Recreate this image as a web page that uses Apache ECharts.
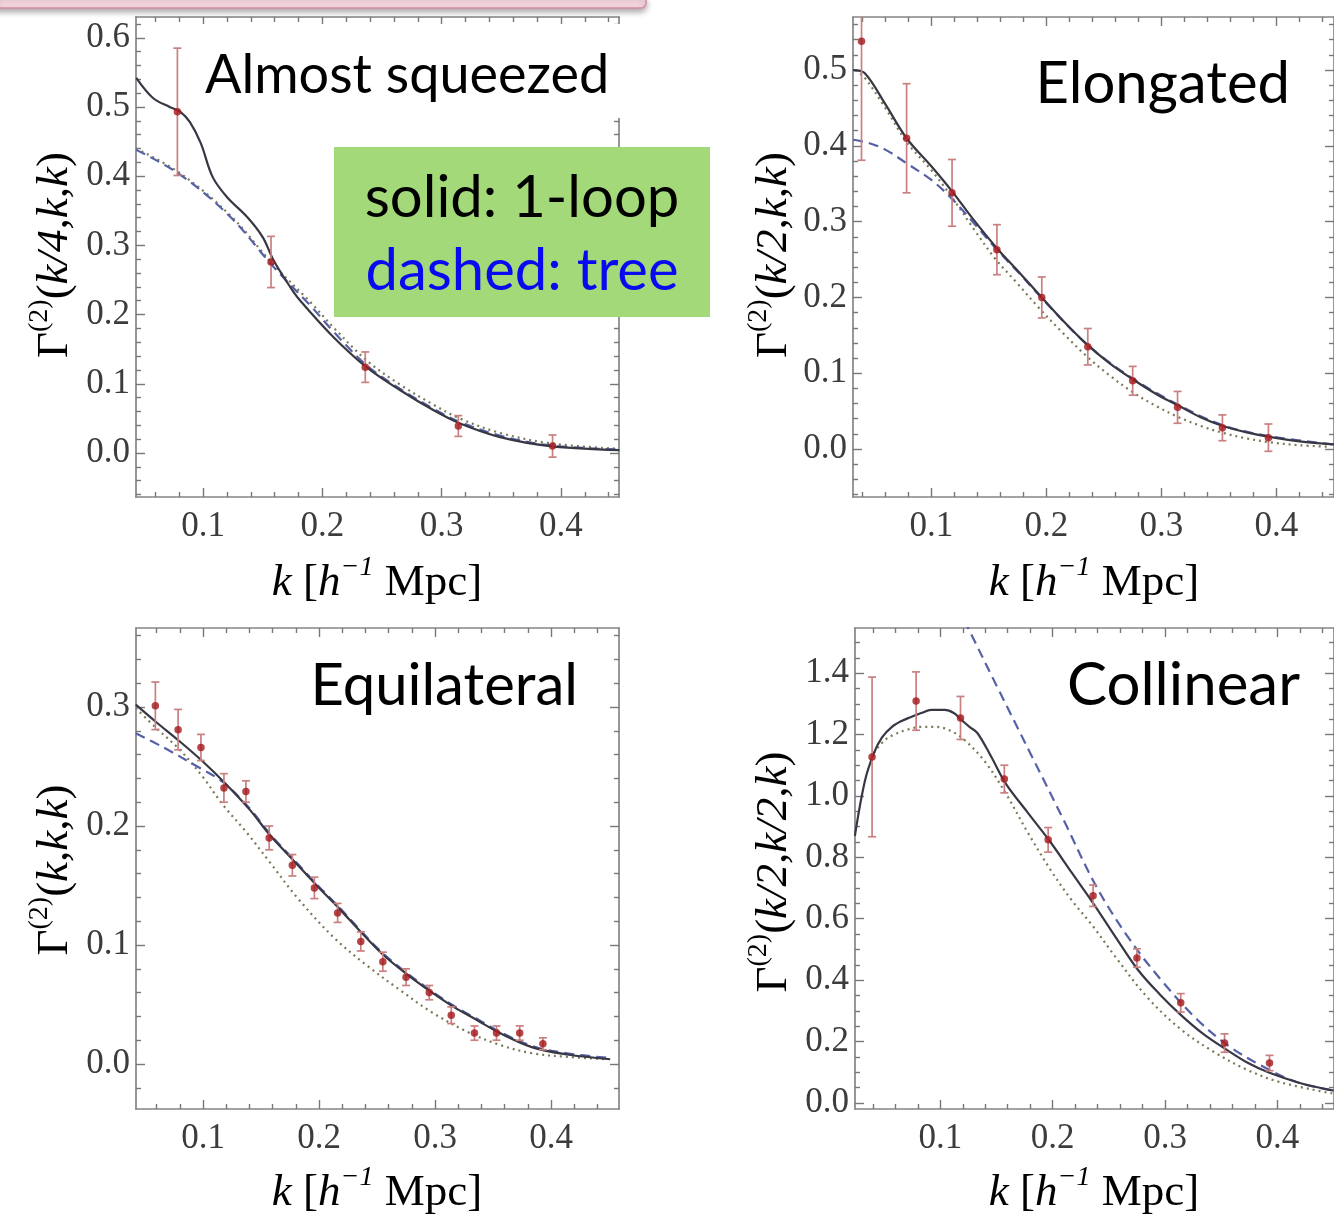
<!DOCTYPE html>
<html><head><meta charset="utf-8">
<script src="https://cdn.jsdelivr.net/npm/echarts@6/dist/echarts.min.js"></script>
<style>html,body{margin:0;padding:0;background:#fff}#c{width:1334px;height:1215px}</style>
</head><body><div id="c"></div>
<script>
// ---------- Panel 1: Almost squeezed  Γ(k/4,k,k)
const p1SolidK = [0.044,0.058,0.072,0.081,0.089,0.098,0.108,0.120,0.137,0.150,0.159,0.173,0.181,0.209,0.237,0.265,0.293,0.315,0.349,0.391,0.449];
const p1SolidY = [0.542,0.513,0.500,0.493,0.478,0.448,0.399,0.370,0.341,0.312,0.279,0.240,0.221,0.168,0.124,0.091,0.062,0.043,0.023,0.010,0.004];
const p1DashK = [0.044,0.081,0.123,0.159,0.190,0.209,0.237,0.265,0.293,0.315,0.349,0.391,0.449];
const p1DashY = [0.438,0.402,0.341,0.269,0.213,0.176,0.127,0.093,0.064,0.045,0.025,0.011,0.005];
const p1DotK  = [0.044,0.081,0.123,0.159,0.190,0.209,0.237,0.265,0.293,0.315,0.349,0.391,0.449];
const p1DotY  = [0.440,0.404,0.343,0.272,0.218,0.182,0.134,0.099,0.070,0.050,0.029,0.014,0.006];
const p1PtK = [0.0785,0.157,0.236,0.314,0.393];
const p1PtY = [0.493,0.276,0.124,0.039,0.010];
const p1PtE = [0.092,0.037,0.022,0.015,0.016];

// ---------- Panel 2: Elongated  Γ(k/2,k,k)
const p2SolidK = [0.032,0.042,0.060,0.0785,0.100,0.118,0.137,0.157,0.177,0.196,0.216,0.236,0.255,0.275,0.295,0.315,0.334,0.354,0.374,0.394,0.420,0.450];
const p2SolidY = [0.500,0.496,0.455,0.410,0.373,0.340,0.302,0.265,0.232,0.200,0.167,0.137,0.113,0.092,0.073,0.057,0.042,0.030,0.022,0.016,0.010,0.006];
const p2DashK = [0.032,0.045,0.060,0.0785,0.100,0.118,0.137,0.157,0.177,0.196,0.236,0.275,0.315,0.354,0.394,0.450];
const p2DashY = [0.408,0.404,0.395,0.377,0.355,0.330,0.298,0.263,0.231,0.199,0.137,0.093,0.058,0.031,0.017,0.006];
const p2DotK  = [0.034,0.042,0.060,0.0785,0.100,0.118,0.137,0.155,0.175,0.193,0.215,0.236,0.255,0.275,0.295,0.315,0.335,0.354,0.374,0.394,0.420,0.446];
const p2DotY  = [0.500,0.490,0.450,0.405,0.368,0.332,0.290,0.252,0.218,0.187,0.152,0.121,0.097,0.075,0.057,0.042,0.030,0.021,0.014,0.009,0.005,0.003];
const p2PtK = [0.0393,0.0785,0.118,0.157,0.196,0.236,0.275,0.314,0.353,0.393];
const p2PtY = [0.538,0.410,0.338,0.263,0.200,0.135,0.090,0.055,0.028,0.015];
const p2PtE = [0.157,0.072,0.044,0.033,0.027,0.024,0.019,0.021,0.017,0.018];

// ---------- Panel 3: Equilateral  Γ(k,k,k)
const p3SolidK = [0.042,0.060,0.080,0.100,0.119,0.140,0.158,0.178,0.198,0.217,0.236,0.255,0.275,0.296,0.316,0.336,0.356,0.384,0.414,0.451];
const p3SolidY = [0.302,0.287,0.271,0.254,0.236,0.214,0.192,0.171,0.150,0.131,0.111,0.092,0.076,0.061,0.048,0.037,0.026,0.014,0.008,0.004];
const p3DashK = [0.042,0.066,0.095,0.117,0.140,0.158,0.178,0.198,0.217,0.236,0.255,0.275,0.296,0.316,0.336,0.356,0.384,0.414,0.451];
const p3DashY = [0.278,0.266,0.250,0.237,0.215,0.193,0.172,0.151,0.132,0.112,0.093,0.077,0.062,0.049,0.038,0.027,0.015,0.009,0.005];
const p3DotK  = [0.042,0.060,0.080,0.100,0.117,0.138,0.158,0.181,0.212,0.241,0.270,0.298,0.328,0.356,0.384,0.414,0.448];
const p3DotY  = [0.299,0.282,0.264,0.241,0.218,0.194,0.169,0.140,0.107,0.083,0.062,0.043,0.027,0.016,0.009,0.006,0.004];
const p3PtK = [0.0589,0.0785,0.0982,0.118,0.137,0.157,0.177,0.196,0.216,0.236,0.255,0.275,0.295,0.314,0.334,0.353,0.373,0.393];
const p3PtY = [0.301,0.281,0.266,0.232,0.229,0.190,0.167,0.148,0.127,0.103,0.086,0.073,0.060,0.041,0.026,0.026,0.026,0.017];
const p3PtE = [0.020,0.017,0.011,0.012,0.009,0.010,0.009,0.009,0.008,0.008,0.008,0.007,0.006,0.007,0.006,0.006,0.006,0.005];

// ---------- Panel 4: Collinear  Γ(k/2,k/2,k)
const p4SolidK = [0.024,0.033,0.041,0.048,0.057,0.066,0.074,0.083,0.092,0.104,0.112,0.119,0.126,0.133,0.145,0.158,0.178,0.198,0.217,0.236,0.256,0.276,0.295,0.314,0.334,0.355,0.374,0.393,0.420,0.450];
const p4SolidY = [0.870,1.050,1.140,1.190,1.225,1.245,1.257,1.270,1.280,1.280,1.270,1.247,1.225,1.205,1.130,1.042,0.945,0.850,0.750,0.651,0.540,0.433,0.355,0.287,0.225,0.173,0.130,0.098,0.065,0.040];
const p4DashK = [0.115,0.1256,0.150,0.180,0.210,0.239,0.269,0.299,0.329,0.358,0.388,0.417,0.450];
const p4DashY = [1.620,1.541,1.360,1.140,0.920,0.704,0.530,0.390,0.270,0.182,0.117,0.068,0.040];
const p4DotK  = [0.041,0.050,0.059,0.070,0.083,0.094,0.104,0.119,0.139,0.158,0.178,0.198,0.217,0.236,0.255,0.284,0.314,0.344,0.373,0.402,0.450];
const p4DotY  = [1.140,1.180,1.200,1.215,1.225,1.225,1.220,1.190,1.115,1.010,0.880,0.760,0.660,0.575,0.480,0.345,0.240,0.165,0.108,0.068,0.030];
const p4PtK = [0.0393,0.0785,0.118,0.157,0.196,0.236,0.275,0.314,0.353,0.393];
const p4PtY = [1.127,1.309,1.254,1.055,0.857,0.675,0.472,0.326,0.195,0.130];
const p4PtE = [0.260,0.095,0.070,0.045,0.040,0.035,0.030,0.030,0.030,0.025];

// ---------- tick labels
const xMajor = [0.1,0.2,0.3,0.4];
const y1Major = [0.0,0.1,0.2,0.3,0.4,0.5,0.6];
const y2Major = [0.0,0.1,0.2,0.3,0.4,0.5];
const y3Major = [0.0,0.1,0.2,0.3];
const y4Major = [0.0,0.2,0.4,0.6,0.8,1.0,1.2,1.4];

const titles = ['Almost squeezed','Elongated','Equilateral','Collinear'];

function zip(a,b){return a.map((v,i)=>[v,b[i]]);}
function minorList(lo,hi,step,majors){const out=[];const n0=Math.ceil(lo/step-1e-9),n1=Math.floor(hi/step+1e-9);
  for(let n=n0;n<=n1;n++){const v=+(n*step).toFixed(6); if(!majors.some(m=>Math.abs(m-v)<1e-6)) out.push(v);} return out;}

const panels = [
  {grid:{left:136,top:17,width:483,height:480}, x:[0.0438,0.4487], y:[-0.0636,0.630], yMaj:y1Major, yStep:0.02,
   solid:zip(p1SolidK,p1SolidY), dash:zip(p1DashK,p1DashY), dot:zip(p1DotK,p1DotY), pk:p1PtK, py:p1PtY, pe:p1PtE},
  {grid:{left:853,top:17,width:485,height:480}, x:[0.0319,0.450], y:[-0.0633,0.570], yMaj:y2Major, yStep:0.02,
   solid:zip(p2SolidK,p2SolidY), dash:zip(p2DashK,p2DashY), dot:zip(p2DotK,p2DotY), pk:p2PtK, py:p2PtY, pe:p2PtE},
  {grid:{left:136,top:628,width:483,height:481}, x:[0.0422,0.4586], y:[-0.0378,0.3664], yMaj:y3Major, yStep:0.02,
   solid:zip(p3SolidK,p3SolidY), dash:zip(p3DashK,p3DashY), dot:zip(p3DotK,p3DotY), pk:p3PtK, py:p3PtY, pe:p3PtE},
  {grid:{left:855,top:628,width:483,height:481}, x:[0.0241,0.4504], y:[-0.0198,1.547], yMaj:y4Major, yStep:0.05,
   solid:zip(p4SolidK,p4SolidY), dash:zip(p4DashK,p4DashY), dot:zip(p4DotK,p4DotY), pk:p4PtK, py:p4PtY, pe:p4PtE}
];

const frameColor = '#858585';
const labelFont = {fontFamily:'Liberation Serif', fontSize:35, color:'#3c3c3c'};
const grids=[], xAxes=[], yAxes=[], series=[];

function axis(gi, dim, pos, vals, len, withLabel, line, range){
  return {gridIndex:gi, type:'value', min:range[0], max:range[1], position:pos,
    axisLine:{show:line, onZero:false, lineStyle:{color:frameColor, width:1.7}},
    axisTick:{show:true, inside:true, length:len, customValues:vals, lineStyle:{color:'#777', width:1.4}},
    axisLabel:{show:withLabel, customValues:vals, formatter:v=>(+v).toFixed(1), margin: dim==='x'?12:6, ...labelFont},
    splitLine:{show:false}, minorTick:{show:false}, z:3};
}

function errRender(params, api){
  const x = api.value(0), lo = api.value(1), hi = api.value(2);
  const p1 = api.coord([x, hi]), p2 = api.coord([x, lo]);
  const w = 4;
  const st = {stroke:'#c98080', lineWidth:1.7};
  return {type:'group', children:[
    {type:'line', shape:{x1:p1[0],y1:p1[1],x2:p2[0],y2:p2[1]}, style:st},
    {type:'line', shape:{x1:p1[0]-w,y1:p1[1],x2:p1[0]+w,y2:p1[1]}, style:st},
    {type:'line', shape:{x1:p2[0]-w,y1:p2[1],x2:p2[0]+w,y2:p2[1]}, style:st}
  ]};
}

panels.forEach((p,gi)=>{
  grids.push(p.grid);
  const xMin = minorList(p.x[0],p.x[1],0.02,xMajor);
  const yMin = minorList(p.y[0],p.y[1],p.yStep,p.yMaj);
  const xi = xAxes.length, yi = yAxes.length;
  xAxes.push(axis(gi,'x','bottom',xMajor,9,true,true,p.x));
  xAxes.push(axis(gi,'x','bottom',xMin,5,false,false,p.x));
  xAxes.push(axis(gi,'x','top',xMajor,9,false,true,p.x));
  xAxes.push(axis(gi,'x','top',xMin,5,false,false,p.x));
  yAxes.push(axis(gi,'y','left',p.yMaj,9,true,true,p.y));
  yAxes.push(axis(gi,'y','left',yMin,5,false,false,p.y));
  yAxes.push(axis(gi,'y','right',p.yMaj,9,false,true,p.y));
  yAxes.push(axis(gi,'y','right',yMin,5,false,false,p.y));
  const base = {xAxisIndex:xi, yAxisIndex:yi, animation:false, silent:true};
  series.push({...base, type:'line', data:p.dot, showSymbol:false, smooth:0.35, clip:true,
    lineStyle:{color:'#7a7a58', width:2.2, type:[2,4]}, z:2});
  series.push({...base, type:'line', data:p.dash, showSymbol:false, smooth:0.35, clip:true,
    lineStyle:{color:'#5660a6', width:2.2, type:[10,6]}, z:3});
  series.push({...base, type:'line', data:p.solid, showSymbol:false, smooth:0.35, clip:true,
    lineStyle:{color:'#383844', width:2.2}, z:4});
  series.push({...base, type:'custom', renderItem:errRender, clip:true,
    data:p.pk.map((k,i)=>[k, p.py[i]-p.pe[i], p.py[i]+p.pe[i]]), encode:{x:0,y:[1,2]}, z:5});
  series.push({...base, type:'scatter', data:zip(p.pk,p.py), symbolSize:7.5,
    itemStyle:{color:'#a3161a'}, z:6});
});

const serif = 'Liberation Serif';
const tc = '#3a3a3a';
const ttlRich = {
  a:{fontFamily:serif, fontSize:45, color:tc, lineHeight:52, verticalAlign:'bottom'},
  i:{fontFamily:serif, fontSize:45, fontStyle:'italic', color:tc, lineHeight:52, verticalAlign:'bottom'},
  s:{fontFamily:serif, fontSize:28, color:tc, lineHeight:52, verticalAlign:'top'},
  si:{fontFamily:serif, fontSize:28, fontStyle:'italic', color:tc, lineHeight:52, verticalAlign:'top'}
};
function yTitle(x,y,arg){
  return {type:'text', x:x, y:y, rotation:Math.PI/2, z:20,
    style:{text:'{a|Γ}{s|(2)}{a|(}{i|'+arg+'}{a|)}', rich:ttlRich, align:'center', verticalAlign:'middle'}};
}
function xTitle(x,y){
  return {type:'text', x:x, y:y, z:20,
    style:{text:'{i|k}{a| [}{i|h}{si|−1}{a| Mpc]}', rich:ttlRich, align:'center', verticalAlign:'middle'}};
}
const sans = 'Lato';
const tfs = 58;
const graphic = [
  {type:'rect', shape:{x:-4,y:-4,width:650,height:12,r:[0,5,5,0]}, z:30,
   style:{fill:'#f7d7e0', stroke:'#d68ea2', lineWidth:1.5, shadowBlur:6, shadowColor:'rgba(0,0,0,0.35)', shadowOffsetY:3}},
  {type:'rect', shape:{x:200,y:24,width:425,height:94}, z:15, style:{fill:'#ffffff'}},
  {type:'text', x:205, y:76, z:20, style:{text:titles[0], fontFamily:sans, fontSize:54, fill:'#000', align:'left', verticalAlign:'middle'}},
  {type:'text', x:1290, y:84, z:20, style:{text:titles[1], fontFamily:sans, fontSize:tfs, fill:'#000', align:'right', verticalAlign:'middle'}},
  {type:'text', x:578, y:686, z:20, style:{text:titles[2], fontFamily:sans, fontSize:tfs, fill:'#000', align:'right', verticalAlign:'middle'}},
  {type:'text', x:1300, y:686, z:20, style:{text:titles[3], fontFamily:sans, fontSize:tfs+2, fill:'#000', align:'right', verticalAlign:'middle'}},
  {type:'rect', shape:{x:334,y:147,width:376,height:170}, z:18, style:{fill:'#a3d978'}},
  {type:'text', x:522, y:198, z:20, style:{text:'solid: 1-loop', fontFamily:sans, fontSize:58, fill:'#000', align:'center', verticalAlign:'middle'}},
  {type:'text', x:522, y:271, z:20, style:{text:'dashed: tree', fontFamily:sans, fontSize:58, fill:'#0a0af0', align:'center', verticalAlign:'middle'}},
  yTitle(52,255,'k/4,k,k'),
  yTitle(771,255,'k/2,k,k'),
  yTitle(52,870,'k,k,k'),
  yTitle(771,872,'k/2,k/2,k'),
  xTitle(377,580), xTitle(1094,580), xTitle(377,1190), xTitle(1094,1190)
];

const chart = echarts.init(document.getElementById('c'), null, {renderer:'canvas'});
chart.setOption({backgroundColor:'#ffffff', animation:false, grid:grids, xAxis:xAxes, yAxis:yAxes, series:series, graphic:graphic});
</script></body></html>
